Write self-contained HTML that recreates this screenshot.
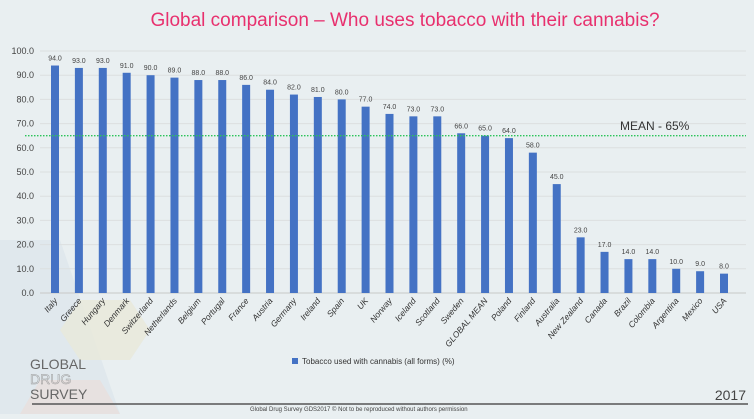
<!DOCTYPE html>
<html><head><meta charset="utf-8"><style>
body{margin:0;width:754px;height:414px;overflow:hidden;background:#e9eff1;font-family:"Liberation Sans",sans-serif;}
</style></head><body>
<svg width="754" height="414" id="svg" xmlns="http://www.w3.org/2000/svg">
<polygon points="0,240 60,240 120,414 0,414" fill="#dbe6eb" opacity="0.7"/>
<polygon points="80,300 130,300 150,330 130,360 80,360 60,330" fill="#e9e8da" opacity="0.8"/>
<polygon points="40,380 100,380 120,414 20,414" fill="#e8dedc" opacity="0.8"/>
<text x="405" y="26" text-anchor="middle" font-size="19" fill="#e8306e">Global comparison – Who uses tobacco with their cannabis?</text>
<g id="grid"></g><g id="bars"></g><g id="labels"></g>
<line x1="25" x2="746" y1="136" y2="136" stroke="#2bc45a" stroke-width="1.3" stroke-dasharray="1.5,1.5" id="meanline"/>
<text x="620" y="130" font-size="12" fill="#333">MEAN - 65%</text>
<rect x="292" y="358" width="6" height="6" fill="#4472c4"/>
<text x="302" y="364" font-size="8" fill="#333">Tobacco used with cannabis (all forms) (%)</text>
<text x="30" y="369" font-size="14" fill="#666">GLOBAL</text>
<text x="30" y="384" font-size="14" fill="none" stroke="#999" stroke-width="0.5">DRUG</text>
<text x="30" y="399" font-size="14" fill="#666">SURVEY</text>
<text x="746" y="400" text-anchor="end" font-size="14" fill="#444">2017</text>
<line x1="32" x2="748" y1="404" y2="404" stroke="#555" stroke-width="1.5"/>
<text x="250" y="411" font-size="6" fill="#444">Global Drug Survey GDS2017 © Not to be reproduced without authors permission</text>
</svg>
<script>
const categories=["Italy","Greece","Hungary","Denmark","Switzerland","Netherlands","Belgium","Portugal","France","Austria","Germany","Ireland","Spain","UK","Norway","Iceland","Scotland","Sweden","GLOBAL MEAN","Poland","Finland","Australia","New Zealand","Canada","Brazil","Colombia","Argentina","Mexico","USA"];
const values=[94,93,93,91,90,89,88,88,86,84,82,81,80,77,74,73,73,66,65,64,58,45,23,17,14,14,10,9,8];
const yTicks=[0,10,20,30,40,50,60,70,80,90,100];
const meanValue=65;
const NS="http://www.w3.org/2000/svg";
const y0=293,y1=51,xFirst=55,xLast=724;
const y=v=>y0-(v/100)*(y0-y1);
const x=i=>xFirst+i*(xLast-xFirst)/(categories.length-1);
function mk(t,a,p){const e=document.createElementNS(NS,t);for(const k in a)e.setAttribute(k,a[k]);p.appendChild(e);return e;}
const g=document.getElementById('grid'),b=document.getElementById('bars'),l=document.getElementById('labels');
yTicks.forEach(v=>{
 const ln=mk('line',{x1:40,x2:746,y1:y(v),y2:y(v),stroke:v===0?'#c8c8c8':'#dcdfe0','stroke-width':1},g);
 
 
 const t=mk('text',{x:34,y:y(v)+3,'text-anchor':'end','font-size':9,fill:'#444'},g);
 t.textContent=v.toFixed(1);
 
 
});
document.getElementById('meanline').setAttribute('y1',y(meanValue));
document.getElementById('meanline').setAttribute('y2',y(meanValue));
values.forEach((v,i)=>{
 const r=mk('rect',{x:x(i)-4,y:y(v),width:8,height:y0-y(v),fill:'#4472c4'},b);
 
 
 const t=mk('text',{x:x(i),y:y(v)-5,'text-anchor':'middle','font-size':7,fill:'#444'},l);
 t.textContent=v.toFixed(1);
 
 
 const c=mk('text',{x:x(i)+3,y:y0+8,'text-anchor':'end','font-size':8.5,'font-style':'italic',fill:'#333',transform:`rotate(-50 ${x(i)+3} ${y0+8})`},l);
 c.textContent=categories[i];
 
 
});
</script>
</body></html>
